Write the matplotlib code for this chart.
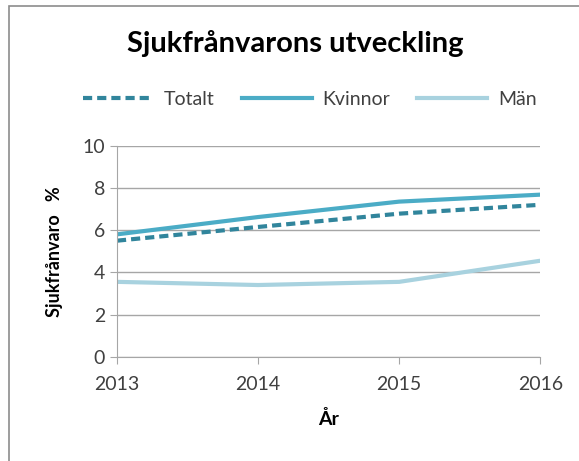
import matplotlib.pyplot as plt
from matplotlib.lines import Line2D
from matplotlib.patches import Rectangle

plt.rcParams['font.family'] = ['Lato', 'DejaVu Sans']

years = [2013, 2014, 2015, 2016]
totalt = [5.5, 6.15, 6.78, 7.2]
kvinnor = [5.8, 6.62, 7.35, 7.68]
man = [3.55, 3.4, 3.55, 4.55]

fig = plt.figure(figsize=(5.79, 4.61), dpi=100)
ax = fig.add_axes([0.202, 0.226, 0.731, 0.458])

ax.plot(years, kvinnor, color='#4BACC6', lw=3, label='Kvinnor', solid_capstyle='butt')
ax.plot(years, man, color='#A8D2DF', lw=3, label='Män', solid_capstyle='butt')
ax.plot(years, totalt, color='#31859C', lw=3, ls=(0, (2.2, 1.2)), label='Totalt')

ax.set_xlim(2013, 2016)
ax.set_ylim(0, 10)
ax.set_xticks(years)
ax.set_yticks(range(0, 11, 2))
ax.grid(axis='y', color='#A6A6A6', lw=1)
ax.set_axisbelow(True)
for s in ['top', 'right']:
    ax.spines[s].set_visible(False)
for s in ['left', 'bottom']:
    ax.spines[s].set_color('#A6A6A6')
ax.tick_params(colors='#A6A6A6', labelcolor='#404040', labelsize=14, length=5)
ax.tick_params(axis='x', pad=9)

ax.set_xlabel('År', fontsize=14, fontweight='bold', labelpad=12)
ax.set_ylabel('Sjukfrånvaro   %', fontsize=13, fontweight='bold', labelpad=14)

fig.text(0.51, 0.905, 'Sjukfrånvarons utveckling', ha='center', va='center',
         fontsize=21, fontweight='bold')

handles = [Line2D([], [], color='#31859C', lw=3, ls=(0, (2.2, 1.2))),
           Line2D([], [], color='#4BACC6', lw=3),
           Line2D([], [], color='#A8D2DF', lw=3)]
fig.legend(handles, ['Totalt', 'Kvinnor', 'Män'], loc='center', ncol=3,
           bbox_to_anchor=(0.535, 0.785), frameon=False, fontsize=14,
           handlelength=3.6, handletextpad=0.55, columnspacing=1.4,
           labelcolor='#404040')

fig.patches.append(Rectangle((0.015, -0.01), 1.1, 0.998, transform=fig.transFigure,
                             fill=False, edgecolor='#8C8C8C', lw=1.2))

plt.savefig('out.png', dpi=100)
